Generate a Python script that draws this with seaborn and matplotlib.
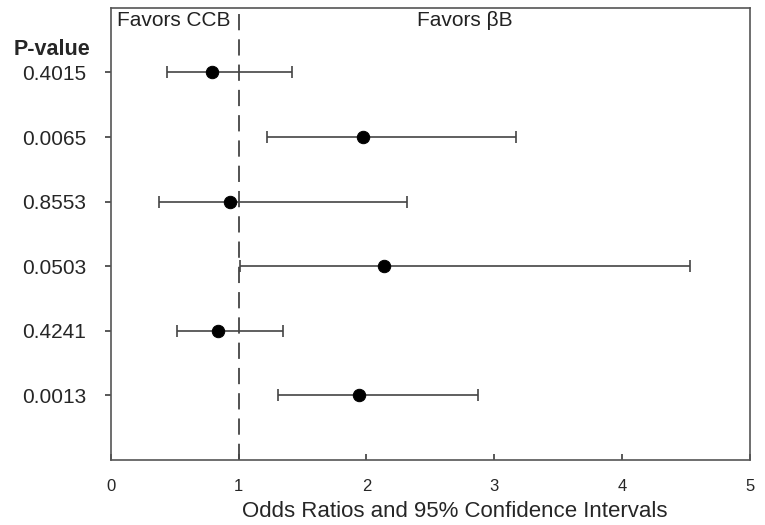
import matplotlib
matplotlib.use("Agg")
import matplotlib.pyplot as plt
import seaborn as sns
import pandas as pd

p_values = ["0.4015", "0.0065", "0.8553", "0.0503", "0.4241", "0.0013"]
odds_ratio = [0.79, 1.97, 0.93, 2.14, 0.84, 1.94]
ci_low = [0.44, 1.22, 0.38, 1.01, 0.52, 1.31]
ci_high = [1.42, 3.17, 2.32, 4.53, 1.35, 2.87]

df = pd.DataFrame({"p": p_values, "or": odds_ratio, "lo": ci_low, "hi": ci_high})
df["row"] = range(1, len(df) + 1)

sns.set_theme(style="ticks")
plt.rcParams['font.family'] = ['Liberation Sans', 'DejaVu Sans']

fig, ax = plt.subplots(figsize=(7.65, 5.25), dpi=100)
fig.subplots_adjust(left=0.145, right=0.980, top=0.985, bottom=0.124)

# reference line at OR = 1
ax.axvline(1, color="#444444", lw=1.3, ls=(0, (9, 5)), zorder=1)

err = [df["or"] - df["lo"], df["hi"] - df["or"]]
ax.errorbar(df["or"], df["row"], xerr=err, fmt="none", ecolor="#444444",
            elinewidth=1.2, capsize=4.5, capthick=1.2, zorder=2)
sns.scatterplot(data=df, x="or", y="row", color="black", s=80, edgecolor="black",
                ax=ax, zorder=3, legend=False)

ax.set_xlim(0, 5)
ax.set_ylim(7, 0)
ax.set_xticks([0, 1, 2, 3, 4, 5])
ax.set_yticks(df["row"])
ax.set_yticklabels(df["p"], fontsize=15)
ax.tick_params(axis="x", direction="in", labelsize=12, length=4, pad=14, color="#444444")
ax.tick_params(axis="y", direction="out", length=4, pad=14, color="#444444")
ax.set_xlabel("Odds Ratios and 95% Confidence Intervals", fontsize=16, labelpad=4)
ax.xaxis.set_label_coords(0.538, -0.092)
ax.set_ylabel("")

for s in ax.spines.values():
    s.set_color("#555555")
    s.set_linewidth(1.2)

ax.text(0.05, 0.19, "Favors CCB", fontsize=15, color="#222222", va="center", ha="left")
ax.text(2.77, 0.19, "Favors \u03b2B", fontsize=15, color="#222222", va="center", ha="center")
ax.text(-0.46, 0.65, "P-value", fontsize=15.5, fontweight="bold", ha="center", va="center")

fig.savefig("out.png", dpi=100)
